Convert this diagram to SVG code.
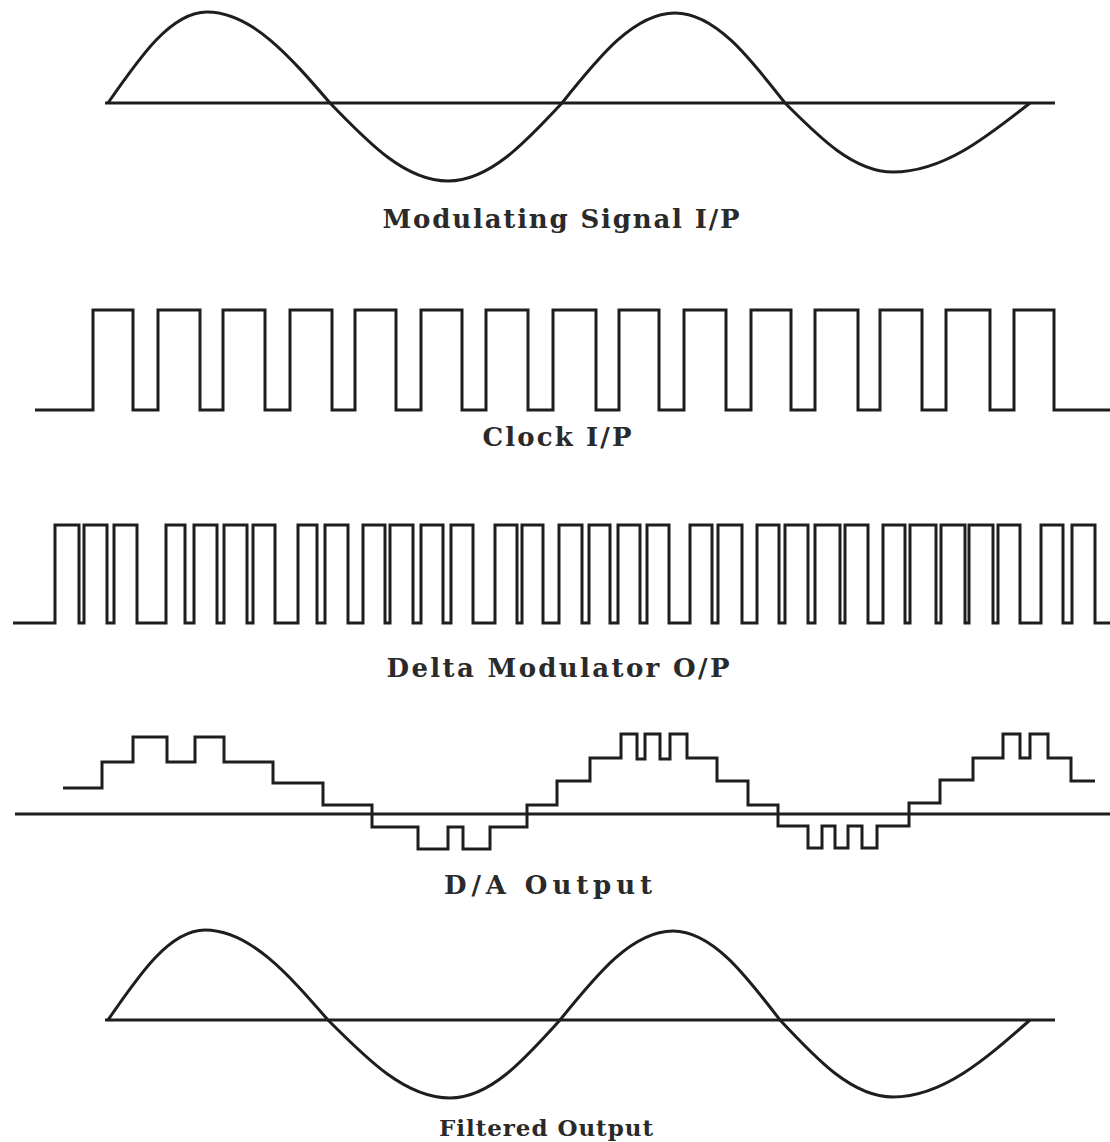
<svg xmlns="http://www.w3.org/2000/svg" width="1110" height="1142" viewBox="0 0 1110 1142">
<style>
.w{fill:none;stroke:#1e1e1e;stroke-width:3;stroke-linejoin:miter}
.ax{fill:none;stroke:#1e1e1e;stroke-width:3}
.lb{font-family:"DejaVu Serif","Liberation Serif",serif;font-weight:bold;font-size:26px;fill:#2a2a2a;text-anchor:middle}
</style>
<rect width="1110" height="1142" fill="#ffffff"/>
<g id="modulating">
<line class="ax" x1="105" y1="103" x2="1055" y2="103"/>
<path class="w" d="M108,103 C140.3,56.4 171.2,12 207,12 C251.5,12 289.9,56.4 330,103 C368.5,143 405.3,181 448,181 C489.3,181 524.8,143 562,103 C598.8,56.9 634.1,13 675,13 C714.8,13 749.1,56.9 785,103 C820.2,138.3 853.9,172 893,172 C942.6,172 985.3,138.3 1030,103"/>
<text class="lb" x="561" y="228" textLength="357">Modulating Signal I/P</text>
</g>
<g id="clock">
<path class="w" d="M35,410 H93 V310 H133 V410 H158 V310 H200 V410 H223 V310 H265 V410 H290 V310 H332 V410 H355 V310 H396 V410 H421 V310 H462 V410 H486 V310 H528 V410 H553 V310 H596 V410 H619 V310 H659 V410 H684 V310 H726 V410 H751 V310 H791 V410 H815 V310 H858 V410 H880 V310 H922 V410 H946 V310 H990 V410 H1014 V310 H1054 V410 H1110"/>
<text class="lb" x="557" y="446" textLength="149">Clock I/P</text>
</g>
<g id="delta">
<path class="w" d="M13,623 H55 V525 H79 V623 H84 V525 H107 V623 H114 V525 H137 V623 H166 V525 H185 V623 H194 V525 H217 V623 H224 V525 H247 V623 H253 V525 H275 V623 H298 V525 H317 V623 H325 V525 H348 V623 H363 V525 H385 V623 H390 V525 H413 V623 H421 V525 H443 V623 H451 V525 H473 V623 H495 V525 H517 V623 H522 V525 H543 V623 H559 V525 H582 V623 H589 V525 H610 V623 H618 V525 H640 V623 H647 V525 H669 V623 H690 V525 H712 V623 H718 V525 H742 V623 H757 V525 H779 V623 H785 V525 H808 V623 H815 V525 H840 V623 H845 V525 H868 V623 H883 V525 H905 V623 H910 V525 H936 V623 H941 V525 H965 V623 H969 V525 H993 V623 H998 V525 H1020 V623 H1041 V525 H1063 V623 H1072 V525 H1095 V623 H1110"/>
<text class="lb" x="558" y="677" textLength="343">Delta Modulator O/P</text>
</g>
<g id="da">
<line class="ax" x1="15" y1="814" x2="1110" y2="814"/>
<path class="w" d="M63,788 H102 V762 H133 V737 H167 V762 H195 V737 H224 V762 H273 V783 H323 V805 H372 V827 H418 V849 H448 V827 H463 V849 H490 V827 H527 V805 H557 V781 H590 V758 H621 V734 H637 V759 H645 V734 H660 V759 H670 V734 H687 V758 H717 V781 H748 V805 H778 V826 H808 V848 H822 V826 H835 V848 H848 V826 H862 V848 H877 V826 H909 V803 H940 V780 H973 V758 H1003 V734 H1020 V758 H1030 V734 H1048 V758 H1071 V781 H1095"/>
<text class="lb" x="548" y="894" textLength="208">D/A Output</text>
</g>
<g id="filtered">
<line class="ax" x1="105" y1="1020" x2="1055" y2="1020"/>
<path class="w" d="M108,1020 C139.6,973.9 169.9,930 205,930 C249.5,930 287.9,973.9 328,1020 C367.8,1060 405.8,1098 450,1098 C489.8,1098 524.1,1060 560,1020 C596.8,974.4 632.1,931 673,931 C711.7,931 745.1,974.4 780,1020 C816.8,1059.4 852.1,1097 893,1097 C942.6,1097 985.3,1059.4 1030,1020"/>
<text class="lb" x="546" y="1136" font-size="23" style="font-size:23px" textLength="214">Filtered Output</text>
</g>
</svg>
